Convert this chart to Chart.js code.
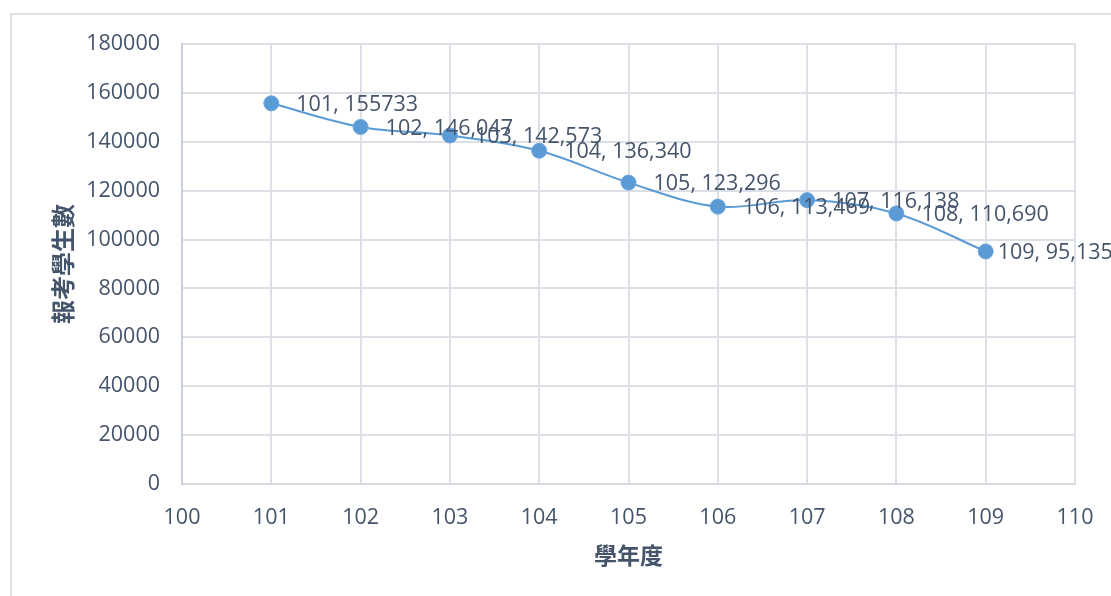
<!DOCTYPE html>
<html>
<head>
<meta charset="utf-8">
<script src="https://cdn.jsdelivr.net/npm/chart.js@4/dist/chart.umd.min.js"></script>
<style>
  html, body { margin: 0; padding: 0; background: #ffffff; overflow: hidden; }
  #frame { position: absolute; left: 10px; top: 13px; width: 1300px; height: 800px; border: 2px solid #dfe1e5; box-sizing: border-box; }
  #wrap { position: absolute; left: 0; top: 0; width: 1111px; height: 596px; }
</style>
</head>
<body>
<div id="frame"></div>
<div id="wrap"><canvas id="c" width="1111" height="596"></canvas></div>
<script>
const years = [101, 102, 103, 104, 105, 106, 107, 108, 109];
const students = [155733, 146047, 142573, 136340, 123296, 113469, 116138, 110690, 95135];
const pointLabels = ["101, 155733", "102, 146,047", "103, 142,573", "104, 136,340", "105, 123,296", "106, 113,469", "107, 116,138", "108, 110,690", "109, 95,135"];
const xTitle = "學年度";
const yTitle = "報考學生數";

const textColor = "#44546a";
const lineColor = "#5b9bd5";
const gridColor = "#dcdfe6";

const labelPlugin = {
  id: "pointLabels",
  afterDatasetsDraw(chart) {
    const ctx = chart.ctx;
    const meta = chart.getDatasetMeta(0);
    ctx.save();
    ctx.font = "21.5px 'Open Sans'";
    ctx.fillStyle = textColor;
    ctx.textAlign = "left";
    ctx.textBaseline = "middle";
    meta.data.forEach((pt, i) => {
      const w = ctx.measureText(pointLabels[i]).width;
      let x = pt.x + 25;
      if (x + w > chart.width) x = pt.x + 12;
      ctx.fillText(pointLabels[i], x, pt.y + 1.5);
    });
    ctx.restore();
  }
};

new Chart(document.getElementById("c"), {
  type: "line",
  data: {
    datasets: [{
      data: years.map((y, i) => ({ x: y, y: students[i] })),
      borderColor: lineColor,
      backgroundColor: lineColor,
      borderWidth: 2,
      pointRadius: 7.5,
      pointBackgroundColor: lineColor,
      pointBorderColor: "#6aa5dc",
      pointBorderWidth: 1,
      tension: 0.35,
      fill: false
    }]
  },
  options: {
    responsive: false,
    animation: false,
    devicePixelRatio: 1,
    layout: { padding: { left: 0, top: 44, right: 36, bottom: 0 } },
    plugins: { legend: { display: false }, tooltip: { enabled: false } },
    scales: {
      x: {
        type: "linear",
        min: 100, max: 110,
        ticks: { stepSize: 1, color: textColor, font: { family: "'Open Sans'", size: 21.5 }, padding: 21, maxRotation: 0 },
        grid: { color: gridColor, lineWidth: 2, drawTicks: false },
        border: { color: "#d5d9e0", width: 2 },
        title: { display: true, text: xTitle, color: textColor, font: { family: "'Noto Sans CJK TC'", size: 23, weight: "bold" }, padding: { top: 0, bottom: 27 } },
        afterFit(scale) { scale.height = 112; scale.paddingRight = 0; scale.paddingLeft = 0; }
      },
      y: {
        min: 0, max: 180000,
        ticks: { stepSize: 20000, color: textColor, font: { family: "'Open Sans'", size: 21.5 }, padding: 22, callback: (v) => String(v) },
        grid: { color: gridColor, lineWidth: 2, drawTicks: false },
        border: { color: "#c9d0db", width: 2 },
        title: { display: true, text: yTitle, color: textColor, font: { family: "'Noto Sans CJK TC'", size: 24, weight: "bold" }, padding: { top: 48, bottom: 0 } },
        afterFit(scale) { scale.width = 182; }
      }
    }
  },
  plugins: [labelPlugin]
});
</script>
</body>
</html>
